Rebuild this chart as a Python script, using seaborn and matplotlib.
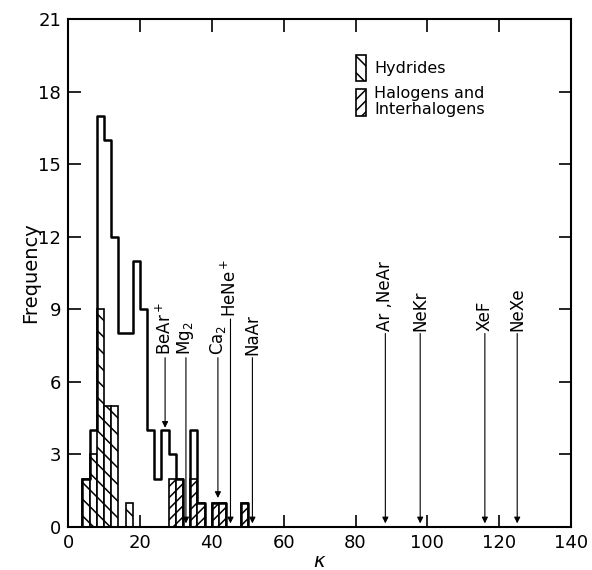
import numpy as np
import pandas as pd
import matplotlib
matplotlib.use("Agg")
import matplotlib.pyplot as plt
from matplotlib.patches import Patch
import seaborn as sns

# ---------------- data ----------------
bin_left = [2, 4, 6, 8, 10, 12, 14, 16, 18, 20, 22, 24, 26, 28, 30, 32, 34, 36,
            38, 40, 42, 44, 46, 48, 50]
total_counts = [0, 2, 4, 17, 16, 12, 8, 8, 11, 9, 4, 2, 4, 3, 2, 0, 4, 1,
                0, 1, 1, 0, 0, 1, 0]
hydride_counts = [0, 2, 3, 9, 5, 5, 0, 1, 0, 0, 0, 0, 0, 0, 0, 0, 0, 0,
                  0, 0, 0, 0, 0, 0, 0]
halogen_counts = [0, 0, 0, 0, 0, 0, 0, 0, 0, 0, 0, 0, 0, 2, 2, 0, 2, 1,
                  0, 1, 1, 0, 0, 1, 0]
bin_width = 2

mol_labels = ["BeAr$^+$", "Mg$_2$", "Ca$_2$", "HeNe$^+$", "NaAr",
              "Ar ,NeAr", "NeKr", "XeF", "NeXe"]
mol_kappa = [27.0, 32.8, 41.7, 45.2, 51.3, 88.3, 98.0, 116.0, 125.0]

x_ticks = [0, 20, 40, 60, 80, 100, 120, 140]
y_ticks = [0, 3, 6, 9, 12, 15, 18, 21]

# ---------------- layout ----------------
arrow_tip = [4.1, 0.15, 1.2, 0.15, 0.15, 0.15, 0.15, 0.15, 0.15]
arrow_start = [7.0, 7.0, 7.0, 8.6, 7.0, 8.0, 8.0, 8.0, 8.0]

sns.set_style("ticks")
plt.rcParams["font.family"] = ["DejaVu Sans"]
plt.rcParams["mathtext.default"] = "regular"
plt.rcParams["hatch.linewidth"] = 1.1
for key in ["text.color", "axes.labelcolor", "xtick.color", "ytick.color",
            "axes.edgecolor"]:
    plt.rcParams[key] = "black"

df = pd.DataFrame({
    "kappa": np.array(bin_left) + bin_width / 2,
    "total": total_counts,
    "hydrides": hydride_counts,
    "halogens": halogen_counts,
})
edges = [float(b) for b in bin_left] + [float(bin_left[-1] + bin_width)]

fig = plt.figure(figsize=(5.92, 5.70), dpi=100)
ax = fig.add_axes([0.115, 0.0754, 0.8497, 0.8913])

sns.histplot(data=df, x="kappa", weights="hydrides", bins=edges, element="bars",
             fill=True, facecolor="white", edgecolor="black", hatch="\\\\",
             linewidth=1.2, ax=ax)
sns.histplot(data=df, x="kappa", weights="halogens", bins=edges, element="bars",
             fill=True, facecolor="white", edgecolor="black", hatch="///",
             linewidth=1.2, ax=ax)
sns.histplot(data=df, x="kappa", weights="total", bins=edges, element="step",
             fill=False, color="black", linewidth=1.8, ax=ax)

for lab, k, tip, start in zip(mol_labels, mol_kappa, arrow_tip, arrow_start):
    ax.annotate("", xy=(k, tip), xytext=(k, start),
                arrowprops=dict(arrowstyle="-|>", color="black", lw=0.8,
                                mutation_scale=9, shrinkA=0, shrinkB=0))
    ax.text(k, start + 0.1, lab, rotation=90, ha="center", va="bottom",
            fontsize=12, color="black")

ax.set_xlim(0, 140)
ax.set_ylim(0, 21)
ax.set_xticks(x_ticks)
ax.set_yticks(y_ticks)
ax.tick_params(direction="in", length=9, width=1.2, top=True, right=True,
               labelsize=13, pad=5, colors="black")
for s in ax.spines.values():
    s.set_linewidth(1.5)
    s.set_visible(True)
    s.set_color("black")
ax.set_xlabel(r"$\mathit{\kappa}$", fontsize=14, labelpad=0)
ax.set_ylabel("Frequency", fontsize=14, labelpad=-1)

handles = [Patch(facecolor="white", edgecolor="black", hatch="\\\\", lw=1.2),
           Patch(facecolor="white", edgecolor="black", hatch="///", lw=1.2)]
leg = ax.legend(handles, ["Hydrides", "Halogens and\nInterhalogens"],
                frameon=False, loc="upper left", bbox_to_anchor=(0.573, 0.93),
                fontsize=11.5, handlelength=0.6, handleheight=2.2,
                handletextpad=0.5, labelspacing=0.3, borderpad=0,
                borderaxespad=0)
for t in leg.get_texts():
    t.set_linespacing(1.1)
    t.set_color("black")

fig.savefig("out.png", dpi=100)
